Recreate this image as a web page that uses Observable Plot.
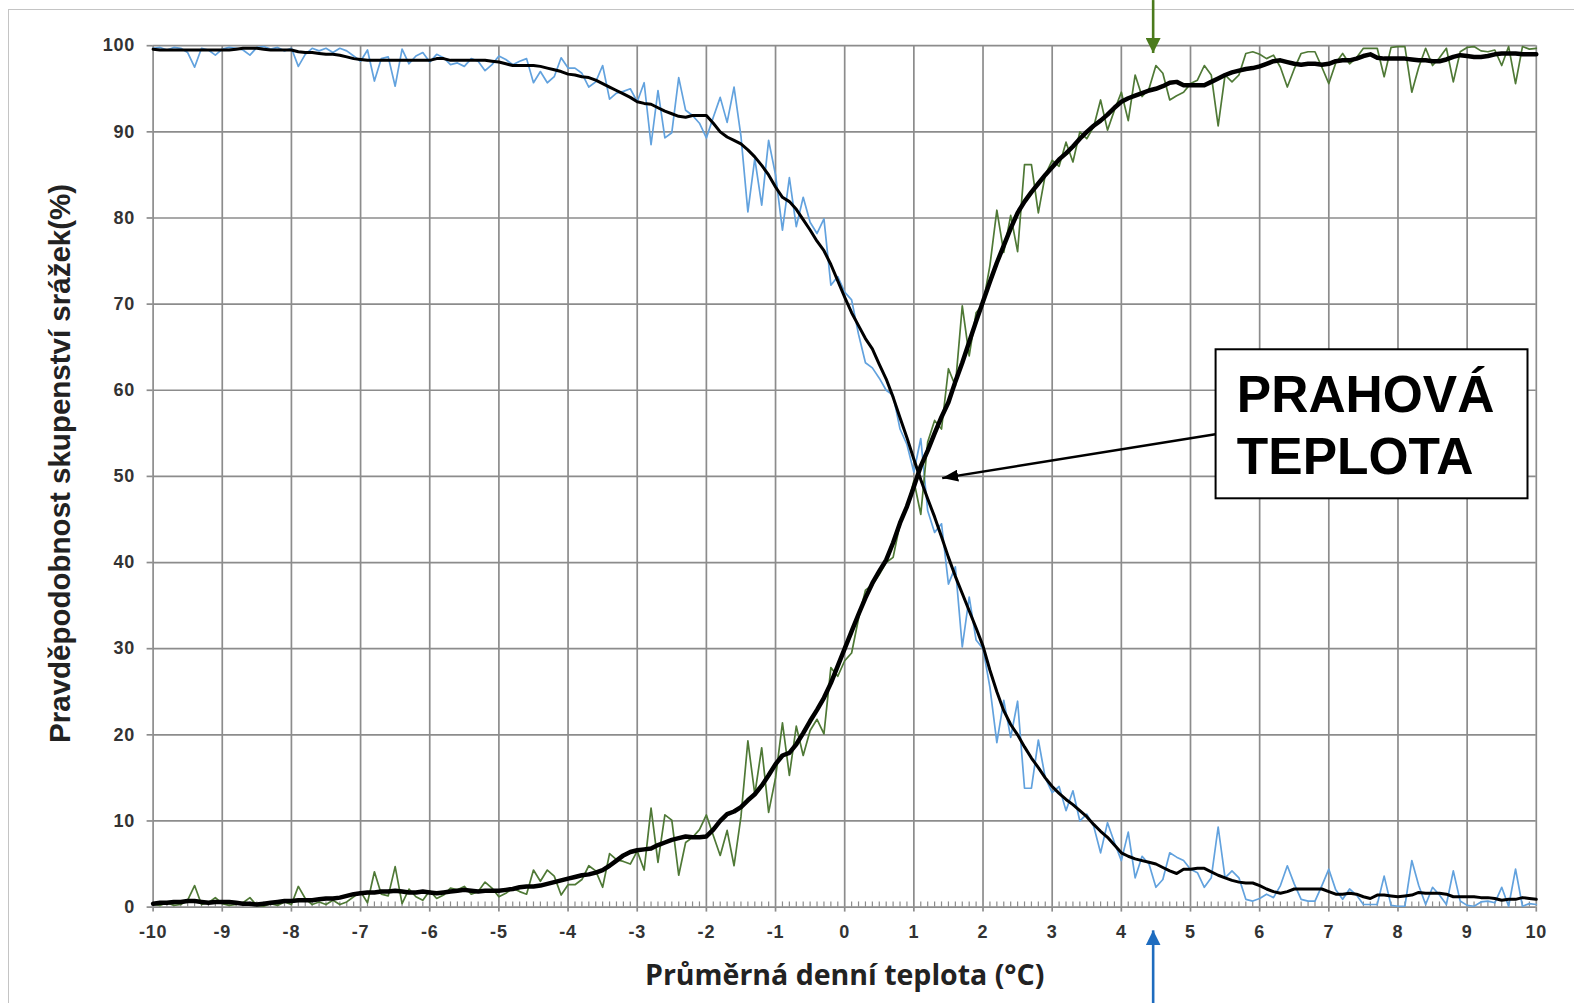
<!DOCTYPE html>
<html>
<head>
<meta charset="utf-8">
<script src="https://cdn.jsdelivr.net/npm/d3@7"></script>
<script src="https://cdn.jsdelivr.net/npm/@observablehq/plot@0.6"></script>
<style>
  html, body { margin: 0; padding: 0; background: #fff; overflow: hidden; }
  #frame { position: absolute; left: 8px; top: 9px; width: 1700px; height: 1100px; border: 1.5px solid #c4c4c4; }
  #chart { position: absolute; left: 0; top: 0; }
  #chart svg g[aria-label="y-axis tick label"] text, #chart svg g[aria-label="x-axis tick label"] text { letter-spacing: 0.8px; }
</style>
</head>
<body>
<div id="frame"></div>
<div id="chart"></div>
<script>
// ---------- data ----------
const temps = d3.range(-100, 101).map(i => i / 10); // daily mean temperature, step 0.1 °C

// blue: probability of snow (%), raw
const snowRaw = [
  99.7, 99.8, 99.5, 99.8, 99.7, 99.2, 97.5, 99.7, 99.5, 98.9,
  99.6, 99.8, 99.7, 99.5, 98.9, 99.8, 99.9, 99.6, 99.8, 99.4,
  99.7, 97.6, 99.0, 99.7, 99.4, 99.7, 99.2, 99.7, 99.4, 98.8,
  98.2, 99.5, 95.9, 98.5, 98.7, 95.3, 99.6, 97.9, 98.8, 99.2,
  98.1, 99.0, 98.6, 97.8, 98.0, 97.6, 98.5, 98.2, 97.1, 97.8,
  98.8, 98.4, 97.8, 98.2, 98.5, 95.7, 97.0, 95.7, 96.4, 98.6,
  97.4, 97.4, 96.8, 95.2, 95.8, 97.7, 93.8, 94.5, 94.7, 95.0,
  93.5, 95.7, 88.5, 94.8, 89.3, 89.9, 96.3, 92.5, 91.9, 91.0,
  89.3, 91.7, 94.0, 91.1, 95.2, 89.5, 80.7, 86.9, 81.5, 89.0,
  85.0, 78.6, 84.7, 79.0, 82.4, 79.5, 78.2, 79.9, 72.2, 73.2,
  71.4, 70.5, 66.5, 63.2, 62.6, 61.4, 60.0, 59.4, 55.5, 53.7,
  50.5, 54.4, 46.0, 43.5, 44.5, 37.5, 39.5, 30.2, 36.0, 31.0,
  30.0, 25.5, 19.1, 24.0, 19.7, 23.9, 13.8, 13.8, 19.4, 15.0,
  13.3, 14.0, 11.2, 13.5, 10.0, 10.8, 9.4, 6.3, 9.8, 7.5,
  5.4, 8.7, 3.4, 5.9, 5.0, 2.3, 3.2, 6.3, 5.8, 5.4,
  4.4, 4.0, 2.3, 3.4, 9.3, 3.4, 4.2, 3.4, 0.9, 0.7,
  1.0, 1.5, 1.1, 2.5, 4.8, 2.7, 0.9, 0.7, 0.7, 2.5,
  4.4, 2.0, 0.9, 2.1, 1.4, 0.3, 0.3, 0.3, 3.6, 0.2,
  0.1, 0.1, 5.4, 2.5, 0.3, 2.3, 1.4, 0.3, 4.2, 0.7,
  0.2, 0.1, 0.6, 0.7, 0.5, 2.3, 0.1, 4.4, 0.1, 0.4,
  0.3
];

// green: probability of rain (%), raw
const rainRaw = [
  0.3, 0.2, 0.5, 0.2, 0.3, 0.8, 2.5, 0.3, 0.5, 1.1,
  0.4, 0.2, 0.3, 0.5, 1.1, 0.2, 0.1, 0.4, 0.2, 0.6,
  0.3, 2.4, 1.0, 0.3, 0.6, 0.3, 0.8, 0.3, 0.6, 1.2,
  1.8, 0.5, 4.1, 1.5, 1.3, 4.7, 0.4, 2.1, 1.2, 0.8,
  1.9, 1.0, 1.4, 2.2, 2.0, 2.4, 1.5, 1.8, 2.9, 2.2,
  1.2, 1.6, 2.2, 1.8, 1.5, 4.3, 3.0, 4.3, 3.6, 1.4,
  2.6, 2.6, 3.2, 4.8, 4.2, 2.3, 6.2, 5.5, 5.3, 5.0,
  6.5, 4.3, 11.5, 5.2, 10.7, 10.1, 3.7, 7.5, 8.1, 9.0,
  10.7, 8.3, 6.0, 8.9, 4.8, 10.5, 19.3, 13.1, 18.5, 11.0,
  15.0, 21.4, 15.3, 21.0, 17.6, 20.5, 21.8, 20.1, 27.8, 26.8,
  28.6, 29.5, 33.5, 36.8, 37.4, 38.6, 40.0, 40.6, 44.5, 46.3,
  49.5, 45.6, 54.0, 56.5, 55.5, 62.5, 60.5, 69.8, 64.0, 69.0,
  70.0, 74.5, 80.9, 76.0, 80.3, 76.1, 86.2, 86.2, 80.6, 85.0,
  86.7, 86.0, 88.8, 86.5, 90.0, 89.2, 90.6, 93.7, 90.2, 92.5,
  94.6, 91.3, 96.6, 94.1, 95.0, 97.7, 96.8, 93.7, 94.2, 94.6,
  95.6, 96.0, 97.7, 96.6, 90.7, 96.6, 95.8, 96.6, 99.1, 99.3,
  99.0, 98.5, 98.9, 97.5, 95.2, 97.3, 99.1, 99.3, 99.3, 97.5,
  95.6, 98.0, 99.1, 97.9, 98.6, 99.7, 99.7, 99.7, 96.4, 99.8,
  99.9, 99.9, 94.6, 97.5, 99.7, 97.7, 98.6, 99.7, 95.8, 99.3,
  99.8, 99.9, 99.4, 99.3, 99.5, 97.7, 99.9, 95.6, 99.9, 99.6,
  99.7
];

// black: smoothed snow probability (%)
const snowSmooth = [
  99.6, 99.5, 99.5, 99.5, 99.5, 99.5, 99.5, 99.5, 99.5, 99.5,
  99.5, 99.5, 99.6, 99.7, 99.7, 99.7, 99.6, 99.5, 99.5, 99.5,
  99.5, 99.3, 99.2, 99.2, 99.1, 99.0, 99.0, 98.9, 98.7, 98.5,
  98.4, 98.3, 98.3, 98.3, 98.3, 98.3, 98.3, 98.3, 98.3, 98.3,
  98.3, 98.5, 98.5, 98.3, 98.3, 98.3, 98.3, 98.3, 98.3, 98.2,
  98.1, 97.9, 97.7, 97.7, 97.7, 97.7, 97.6, 97.4, 97.2, 97.0,
  96.7, 96.6, 96.4, 96.3, 96.0, 95.6, 95.2, 94.8, 94.4, 94.0,
  93.5, 93.3, 93.2, 92.8, 92.4, 92.1, 91.8, 91.7, 91.9, 91.9,
  91.9, 91.0, 90.0, 89.4, 89.0, 88.6, 87.9, 87.1, 86.1, 85.0,
  83.6, 82.4, 81.9, 81.0, 79.8, 78.6, 77.3, 76.2, 74.6, 72.7,
  70.8, 69.0, 67.5, 66.0, 64.8, 63.0, 61.3, 59.2, 56.8, 54.5,
  52.0, 49.6, 47.4, 45.3, 43.0, 40.6, 38.4, 36.4, 34.4, 32.4,
  30.3, 27.5, 25.0, 22.8, 21.2, 20.0, 18.6, 17.3, 16.2, 15.0,
  14.0, 13.2, 12.5, 11.9, 11.2, 10.5, 9.6, 8.8, 8.1, 7.2,
  6.3, 5.9, 5.6, 5.4, 5.2, 5.0, 4.6, 4.2, 3.9, 4.4,
  4.4, 4.5, 4.5, 4.1, 3.7, 3.4, 3.1, 2.9, 2.8, 2.8,
  2.5, 2.1, 1.8, 1.6, 1.8, 2.1, 2.1, 2.1, 2.1, 2.1,
  1.8, 1.5, 1.5, 1.6, 1.5, 1.2, 1.0, 1.4, 1.4, 1.3,
  1.2, 1.3, 1.4, 1.7, 1.6, 1.6, 1.6, 1.5, 1.2, 1.2,
  1.2, 1.2, 1.1, 1.1, 1.0, 0.8, 0.9, 0.9, 1.1, 1.0,
  0.9
];

// black: smoothed rain probability (%)
const rainSmooth = [
  0.4, 0.5, 0.5, 0.6, 0.6, 0.7, 0.7, 0.6, 0.5, 0.6,
  0.6, 0.6, 0.5, 0.4, 0.4, 0.3, 0.4, 0.5, 0.6, 0.7,
  0.7, 0.8, 0.8, 0.8, 0.9, 1.0, 1.0, 1.1, 1.3, 1.5,
  1.6, 1.7, 1.7, 1.8, 1.8, 1.9, 1.8, 1.7, 1.7, 1.8,
  1.7, 1.6, 1.7, 1.8, 1.9, 2.0, 1.9, 1.8, 1.9, 1.9,
  1.9, 2.0, 2.1, 2.3, 2.4, 2.4, 2.5, 2.7, 2.9, 3.1,
  3.3, 3.5, 3.7, 3.8, 4.0, 4.3, 4.8, 5.4, 6.0, 6.4,
  6.6, 6.7, 6.8, 7.2, 7.5, 7.8, 8.0, 8.2, 8.1, 8.1,
  8.2, 9.0, 10.0, 10.8, 11.1, 11.6, 12.4, 13.1, 14.1, 15.3,
  16.6, 17.6, 17.9, 18.9, 20.2, 21.6, 22.9, 24.3, 26.0, 28.0,
  30.0, 32.0, 34.0, 35.9, 37.6, 39.0, 40.3, 42.3, 44.6, 46.5,
  48.8, 51.2, 53.0, 55.0, 56.9, 58.6, 61.0, 63.2, 65.6, 68.0,
  70.3, 72.6, 74.8, 76.8, 78.8, 80.6, 81.9, 83.0, 84.0, 85.0,
  85.9, 86.8, 87.5, 88.3, 89.2, 90.0, 90.7, 91.3, 92.0, 92.8,
  93.5, 93.9, 94.2, 94.5, 94.8, 95.0, 95.3, 95.7, 95.8, 95.4,
  95.4, 95.4, 95.4, 95.8, 96.2, 96.6, 96.9, 97.1, 97.3, 97.4,
  97.6, 97.9, 98.2, 98.3, 98.1, 97.9, 97.8, 97.9, 97.9, 97.8,
  97.9, 98.2, 98.3, 98.3, 98.5, 98.8, 99.0, 98.6, 98.5, 98.5,
  98.5, 98.5, 98.4, 98.3, 98.3, 98.2, 98.2, 98.4, 98.7, 98.9,
  98.8, 98.7, 98.7, 98.8, 99.0, 99.1, 99.1, 99.1, 99.0, 99.0,
  99.0
];

const xTicks = [-10, -9, -8, -7, -6, -5, -4, -3, -2, -1, 0, 1, 2, 3, 4, 5, 6, 7, 8, 9, 10];
const yTicks = [0, 10, 20, 30, 40, 50, 60, 70, 80, 90, 100];
const minorTicks = d3.range(-100, 101).filter(i => i % 10 !== 0).map(i => i / 10);

const xTitle = "Průměrná denní teplota (°C)";
const yTitle = "Pravděpodobnost skupenství srážek(%)";
const boxText = "PRAHOVÁ\nTEPLOTA";

// annotation anchors (data units)
const labelBox = [{x1: 5.37, x2: 9.88, y1: 47.4, y2: 64.7}];
const labelText = [{x: 5.67, y: 50.25}];
const pointer = [{x1: 5.36, y1: 54.9, x2: 1.41, y2: 49.8}];
const rainArrow = [{x: 4.46, y1: 105.3, y2: 99.15}];
const snowArrow = [{x: 4.46, y1: -11.3, y2: -2.7}];

// ---------- build ----------
const rows = temps.map((t, i) => ({
  t,
  snow: snowRaw[i],
  rain: rainRaw[i],
  snowS: snowSmooth[i],
  rainS: rainSmooth[i]
}));

function tri(len, wid) {
  return (color) => {
    const m = d3.create("svg:marker")
      .attr("viewBox", `0 0 ${len} ${wid}`)
      .attr("refX", len)
      .attr("refY", wid / 2)
      .attr("markerWidth", len)
      .attr("markerHeight", wid)
      .attr("markerUnits", "userSpaceOnUse")
      .attr("orient", "auto");
    m.append("path")
      .attr("d", `M0,0L${len},${wid / 2}L0,${wid}Z`)
      .attr("fill", color)
      .attr("stroke", "none");
    return m.node();
  };
}

const grid = "#8c8c8c";

const chart = Plot.plot({
  width: 1574,
  height: 1003,
  marginLeft: 152.6,
  marginRight: 38.2,
  marginTop: 45.2,
  marginBottom: 96.4,
  x: {domain: [-10, 10]},
  y: {domain: [0, 100]},
  style: {background: "transparent", fontFamily: "'Liberation Sans', Arial, sans-serif", overflow: "visible"},
  marks: [
    Plot.gridX(xTicks, {stroke: grid, strokeOpacity: 1, strokeWidth: 1.7}),
    Plot.gridY(yTicks, {stroke: grid, strokeOpacity: 1, strokeWidth: 1.7}),
    Plot.ruleX(minorTicks, {y1: 0, y2: 0.6, stroke: grid, strokeWidth: 1.2}),
    Plot.axisX({ticks: xTicks, tickSize: 5, tickPadding: 13, tickFormat: d => String(d),
      fontSize: 18, fontWeight: "bold", stroke: grid, strokeWidth: 1.7, fill: "#333", label: null}),
    Plot.axisY({ticks: yTicks, tickSize: 6, tickPadding: 12, tickFormat: d => String(d),
      fontSize: 18, fontWeight: "bold", stroke: grid, strokeWidth: 1.7, fill: "#333", label: null}),
    Plot.line(rows, {x: "t", y: "snow", stroke: "#62a2de", strokeWidth: 1.7}),
    Plot.line(rows, {x: "t", y: "rain", stroke: "#4f7936", strokeWidth: 1.7}),
    Plot.line(rows, {x: "t", y: "snowS", stroke: "#000", strokeWidth: 3}),
    Plot.line(rows, {x: "t", y: "rainS", stroke: "#000", strokeWidth: 4.5}),
    Plot.rect(labelBox, {x1: "x1", x2: "x2", y1: "y1", y2: "y2", fill: "#fff", stroke: "#000", strokeWidth: 2}),
    Plot.text(labelText, {x: "x", y: "y", text: () => boxText, textAnchor: "start", lineAnchor: "bottom",
      lineHeight: 1.2, fontSize: 51.5, fontWeight: "bold", fill: "#000"}),
    Plot.link(pointer, {x1: "x1", y1: "y1", x2: "x2", y2: "y2", stroke: "#000", strokeWidth: 2.4, markerEnd: tri(16, 12)}),
    Plot.link(rainArrow, {x1: "x", x2: "x", y1: "y1", y2: "y2", stroke: "#4b7a1c", strokeWidth: 2.6, markerEnd: tri(15, 15)}),
    Plot.link(snowArrow, {x1: "x", x2: "x", y1: "y1", y2: "y2", stroke: "#1e6cbf", strokeWidth: 2.6, markerEnd: tri(15, 15)}),
    Plot.text([yTitle], {frameAnchor: "left", text: d => d, rotate: -90, textAnchor: "middle", dx: -92.4, dy: -13,
      fontSize: 29.5, fontWeight: "bold", fill: "#222"}),
    Plot.text([xTitle], {frameAnchor: "bottom", text: d => d, textAnchor: "middle", dy: 78,
      fontSize: 28.5, fontWeight: "bold", fill: "#222", fontFamily: "'Open Sans', Lato, sans-serif"})
  ]
});

document.getElementById("chart").appendChild(chart);
</script>
</body>
</html>
